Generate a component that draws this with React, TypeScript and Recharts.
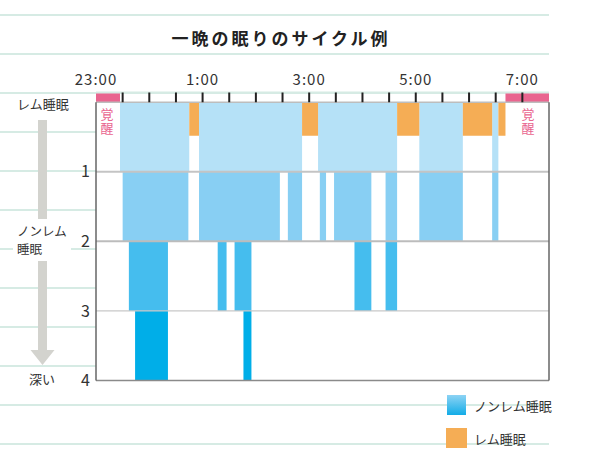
import React from "react"
import { ComposedChart, Area, XAxis, YAxis, ReferenceLine } from "recharts"

// ─── Data ─────────────────────────────────────────────────────────────────────
// time is counted in minutes after 23:00
const hourTicks = [0, 120, 240, 360, 480]
const hourLabels = ["23:00", "1:00", "3:00", "5:00", "7:00"]
const halfHourTicks = [30, 60, 90, 120, 150, 180, 210, 240, 270, 300, 330, 360, 390, 420, 450, 480]
const depthTicks = [1, 2, 3, 4]

// start of every stage, and the stage itself ("W" awake, "R" REM, 1-4 non-REM depth)
const stageStart = [0, 27, 30, 37, 44, 81, 104, 105, 116, 137, 147, 156, 166, 175, 207, 216, 232, 250, 252, 259, 268, 291, 310, 326, 339, 364, 413, 446, 453, 461]
const stageKind: (number | string)[] = ["W", 1, 2, 3, 4, 2, 1, "R", 2, 3, 2, 3, 4, 2, 1, 2, "R", 1, 2, 1, 2, 3, 1, 3, "R", 2, "R", 2, "R", "W"]
const nightEnd = 510
const remDepth = 0.48

// ─── Look ─────────────────────────────────────────────────────────────────────
const STRIP_TOP = -0.14
const FONT = '"Noto Sans CJK JP", "Noto Sans", sans-serif'
const C = {
  awake: "#e9658f",
  rem: "#f5ad55",
  n1: "#b5e1f7",
  n2: "#88cff3",
  n3: "#45bdee",
  n4: "#00aee8",
  mint: "#d6ebe4",
  arrow: "#d3d3ce",
  text: "#333",
}
const mintRows = [15, 54, 93, 132, 171, 210, 249, 288, 327, 366, 405, 444]

function buildRows() {
  return stageStart.flatMap((start, i) => {
    const end = stageStart[i + 1] ?? nightEnd
    const kind = stageKind[i]
    const depth = typeof kind === "number" ? kind : 0
    const band = (k: number) => (depth > k ? [k, k + 1] : null)
    const v = {
      awake: kind === "W" ? [STRIP_TOP, 0] : null,
      rem: kind === "R" ? [0, remDepth] : null,
      n1: band(0),
      n2: band(1),
      n3: band(2),
      n4: band(3),
    }
    return [{ t: start, ...v }, { t: end, ...v }]
  })
}

// ─── Page decoration (notebook lines, side labels, legend) ───────────────────
function Backdrop() {
  return (
    <svg width={593} height={460} style={{ position: "absolute", left: 0, top: 0 }}>
      <defs>
        <linearGradient id="nremGrad" x1="0" y1="0" x2="0" y2="1">
          <stop offset="0%" stopColor="#8dd3f4" />
          <stop offset="100%" stopColor="#12ace7" />
        </linearGradient>
      </defs>
      {mintRows.map((y) => (
        <line key={y} x1={0} x2={y < 95 || y > 382 ? 549 : 96} y1={y} y2={y} stroke={C.mint} strokeWidth={2} />
      ))}
      <text x={281} y={45} textAnchor="middle" fontFamily={FONT} fontSize={17} fontWeight="bold" letterSpacing={3} fill="#222">
        一晩の眠りのサイクル例
      </text>

      <text x={17} y={109} fontFamily={FONT} fontSize={13} fill={C.text}>レム睡眠</text>
      <rect x={38} y={120} width={9} height={99} fill={C.arrow} />
      <rect x={13} y={222} width={58} height={34} fill="#fff" />
      <text x={17} y={236} fontFamily={FONT} fontSize={12.5} fill={C.text}>ノンレム</text>
      <text x={17} y={254} fontFamily={FONT} fontSize={12.5} fill={C.text}>睡眠</text>
      <rect x={38} y={261} width={9} height={90} fill={C.arrow} />
      <polygon points="30.5,350 54.5,350 42.5,365" fill={C.arrow} />
      <text x={42} y={384} textAnchor="middle" fontFamily={FONT} fontSize={13} fill={C.text}>深い</text>

      <text x={107} y={108} writingMode="vertical-rl" letterSpacing={1} fontFamily={FONT} fontSize={13} fill={C.awake}>覚醒</text>
      <text x={528} y={108} writingMode="vertical-rl" letterSpacing={1} fontFamily={FONT} fontSize={13} fill={C.awake}>覚醒</text>

      <rect x={447} y={395} width={19} height={20} fill="url(#nremGrad)" />
      <text x={474} y={411} fontFamily={FONT} fontSize={13} fill={C.text}>ノンレム睡眠</text>
      <rect x={446} y={428} width={21} height={20} fill={C.rem} />
      <text x={474} y={444} fontFamily={FONT} fontSize={13} fill={C.text}>レム睡眠</text>
    </svg>
  )
}

// ─── Chart ────────────────────────────────────────────────────────────────────
function SleepCycleChart() {
  const rows = buildRows()
  const series = [
    { key: "awake", color: C.awake },
    { key: "n1", color: C.n1 },
    { key: "n2", color: C.n2 },
    { key: "n3", color: C.n3 },
    { key: "n4", color: C.n4 },
    { key: "rem", color: C.rem },
  ]
  return (
    <div style={{ position: "absolute", left: 0, top: 0 }}>
      <ComposedChart width={593} height={460} data={rows} margin={{ top: 68.5, right: 44, bottom: 79.5, left: 66 }}>
        <XAxis
          dataKey="t"
          type="number"
          orientation="top"
          domain={[0, nightEnd]}
          allowDataOverflow
          ticks={hourTicks}
          interval={0}
          tickFormatter={(v) => hourLabels[hourTicks.indexOf(v)]}
          height={24}
          tickSize={0}
          tickMargin={8}
          axisLine={false}
          tickLine={false}
          tick={{ fontSize: 15, fill: C.text, fontFamily: FONT, letterSpacing: 1 }}
        />
        <YAxis
          type="number"
          reversed
          domain={[STRIP_TOP, 4]}
          allowDataOverflow
          ticks={depthTicks}
          interval={0}
          width={30}
          tickSize={0}
          tickMargin={6}
          axisLine={false}
          tickLine={false}
          tick={{ fontSize: 16, fill: C.text, fontFamily: FONT }}
        />
        {series.map((s) => (
          <Area
            key={s.key}
            dataKey={s.key}
            type="linear"
            stroke="none"
            fill={s.color}
            fillOpacity={1}
            dot={false}
            activeDot={false}
            isAnimationActive={false}
          />
        ))}
        <ReferenceLine y={STRIP_TOP} stroke={C.mint} strokeWidth={2} />
        <ReferenceLine y={0} stroke="#bdbdbd" strokeWidth={1.5} />
        <ReferenceLine y={1} stroke="#c4c4c4" strokeWidth={2} />
        <ReferenceLine y={2} stroke="#bcbcbc" strokeWidth={2} />
        <ReferenceLine y={3} stroke="#c8c8c8" strokeWidth={1.2} />
        <ReferenceLine y={4} stroke="#8a8a8a" strokeWidth={1.5} />
        {halfHourTicks.map((t) => (
          <ReferenceLine key={t} segment={[{ x: t, y: STRIP_TOP }, { x: t, y: 0 }]} stroke="#222" strokeWidth={2} />
        ))}
        <ReferenceLine segment={[{ x: 0, y: 0 }, { x: 0, y: 4 }]} stroke="#666" strokeWidth={1.5} />
        <ReferenceLine segment={[{ x: nightEnd, y: 0 }, { x: nightEnd, y: 4 }]} stroke="#666" strokeWidth={1.5} />
      </ComposedChart>
    </div>
  )
}

export default function App() {
  return (
    <div style={{ position: "absolute", left: 0, top: 0, width: 593, height: 460, background: "#fff" }}>
      <Backdrop />
      <SleepCycleChart />
    </div>
  )
}
